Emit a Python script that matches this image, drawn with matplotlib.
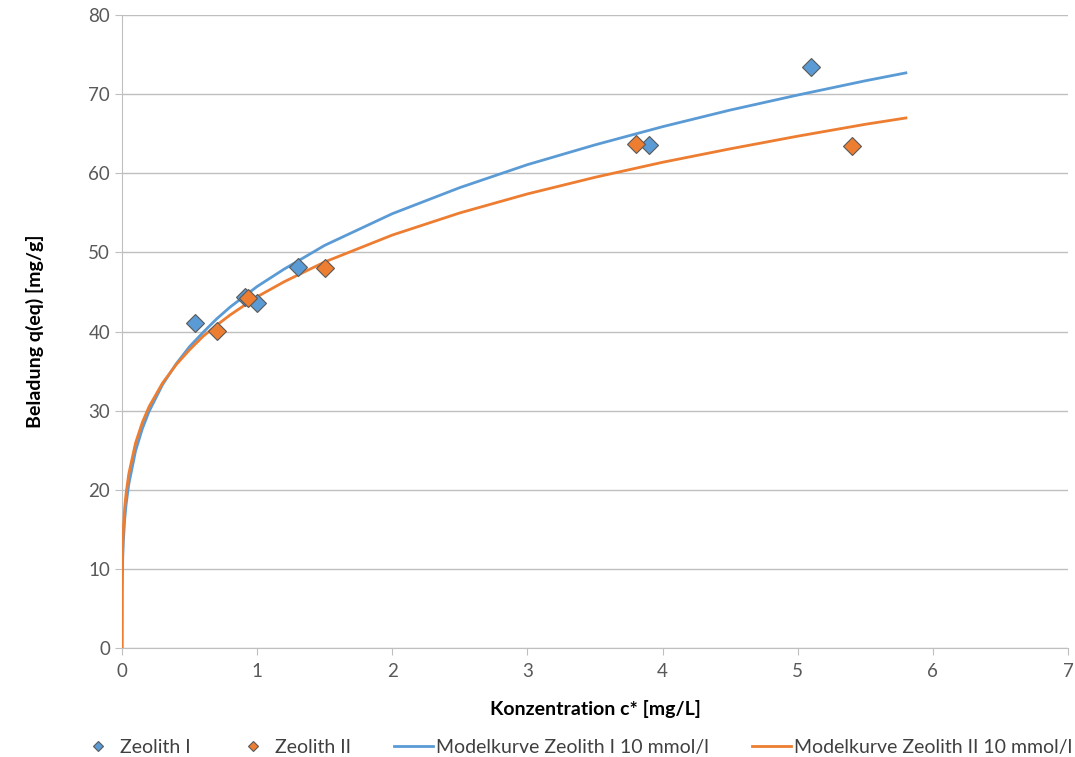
import numpy as np
import matplotlib.pyplot as plt

plt.rcParams['font.family'] = ['Lato', 'DejaVu Sans']

# Messpunkte
c_zeo1 = [0.54, 0.91, 1.0, 1.3, 3.9, 5.1]
q_zeo1 = [41.1, 44.4, 43.6, 48.1, 63.6, 73.4]
c_zeo2 = [0.7, 0.93, 1.5, 3.8, 5.4]
q_zeo2 = [40.1, 44.2, 48.0, 63.7, 63.5]

# Modelkurven
c_model = [0, 0.001, 0.005, 0.01, 0.02, 0.03, 0.05, 0.1, 0.15, 0.2, 0.3, 0.4, 0.5,
           0.6, 0.7, 0.8, 1.0, 1.2, 1.5, 2.0, 2.5, 3.0, 3.5, 4.0, 4.5, 5.0, 5.5, 5.8]
q_model1 = [0, 7.4, 11.3, 13.5, 16.3, 18.1, 20.7, 24.9, 27.7, 29.9, 33.3, 35.9, 38.1,
            39.9, 41.6, 43.1, 45.7, 47.9, 50.9, 54.9, 58.2, 61.1, 63.6, 65.9, 68.0,
            69.9, 71.7, 72.7]
q_model2 = [0, 8.8, 12.8, 15.1, 17.8, 19.5, 22.0, 25.9, 28.5, 30.5, 33.5, 35.8, 37.7,
            39.4, 40.8, 42.1, 44.4, 46.3, 48.8, 52.2, 55.0, 57.4, 59.5, 61.4, 63.1,
            64.7, 66.2, 67.0]

blue = '#5B9BD5'
orange = '#ED7D31'

fig = plt.figure(figsize=(10.75, 7.57), dpi=100)
ax = fig.add_axes([0.1135, 0.144, 0.88, 0.836])

ax.plot(c_model, q_model1, color=blue, lw=2, label='Modelkurve Zeolith I 10 mmol/l', zorder=3)
ax.plot(c_model, q_model2, color=orange, lw=2, label='Modelkurve Zeolith II 10 mmol/l', zorder=3)
ax.plot(c_zeo1, q_zeo1, 'D', color=blue, mec='#5a5a5a', mew=0.8, ms=9, label='Zeolith I', zorder=4)
ax.plot(c_zeo2, q_zeo2, 'D', color=orange, mec='#5a5a5a', mew=0.8, ms=9, label='Zeolith II', zorder=4)

ax.set_xlim(0, 7)
ax.set_ylim(0, 80)
ax.set_xticks(range(0, 8))
ax.set_yticks(range(0, 81, 10))
ax.grid(axis='y', color='#bfbfbf', lw=1)
ax.set_axisbelow(True)
for s in ['top', 'right']:
    ax.spines[s].set_visible(False)
for s in ['left', 'bottom']:
    ax.spines[s].set_color('#bfbfbf')
ax.tick_params(axis='both', colors='#bfbfbf', labelcolor='#595959', labelsize=13.5, length=5)
ax.tick_params(axis='x', pad=6)

ax.set_xlabel('Konzentration c* [mg/L]', fontsize=14, fontweight='bold', labelpad=14)
ax.set_ylabel('Beladung q(eq) [mg/g]', fontsize=14, fontweight='bold', labelpad=32)

handles, labels = ax.get_legend_handles_labels()
order = [2, 3, 0, 1]
leg = fig.legend([handles[i] for i in order], [labels[i] for i in order],
                 loc='lower center', ncol=4, frameon=False, fontsize=14,
                 bbox_to_anchor=(0.535, -0.022), handlelength=2.0, handletextpad=0.15,
                 columnspacing=2.2, markerscale=0.6)
for t in leg.get_texts():
    t.set_color('#404040')

fig.savefig('out.png', dpi=100)
